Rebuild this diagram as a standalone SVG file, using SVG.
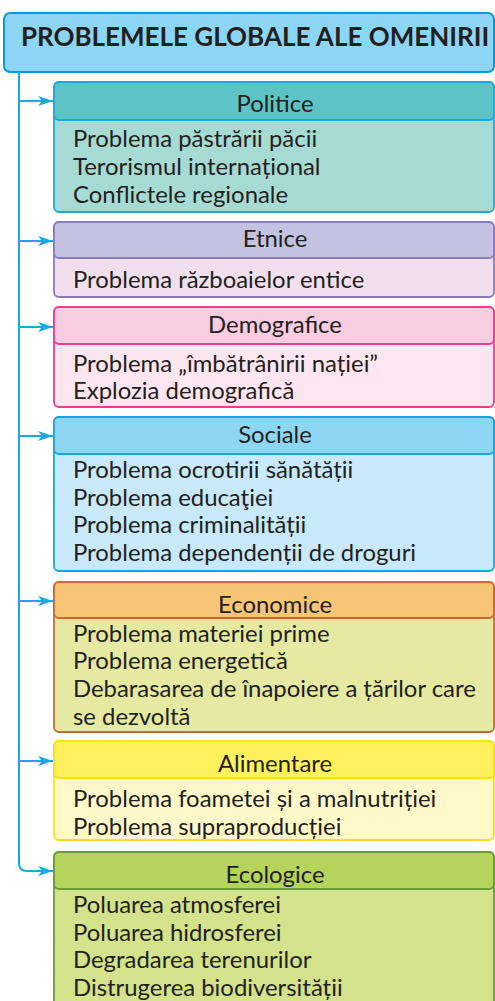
<svg xmlns="http://www.w3.org/2000/svg" width="495" height="1001" viewBox="0 0 495 1001">
<style>
text{font-family:Lato,"Open Sans","Liberation Sans",sans-serif;fill:#231f20}
.t{font-size:23.9px}
.h{font-size:23.9px;text-anchor:middle}
.title{font-size:26px;font-weight:bold;text-anchor:middle}
.conn{fill:none;stroke:#1ea7e4;stroke-width:2}
.box{stroke-width:1.8}
</style>
<defs>
<marker id="arr" markerWidth="16" markerHeight="12" refX="15" refY="5" orient="auto" markerUnits="userSpaceOnUse" viewBox="0 0 16 10">
<path d="M0,0 L15,5 L0,10 L4,5 Z" fill="#1ea7e4"/>
</marker>
</defs>
<rect width="495" height="1001" fill="#ffffff"/>
<g id="title">
<rect x="4" y="13" width="490" height="59" rx="6" fill="#8dd5f4" stroke="#0a98dc" stroke-width="2"/>
<text class="title" x="255" y="46">PROBLEMELE GLOBALE ALE OMENIRII</text>
</g>
<g id="connectors">
<path class="conn" d="M19,72 V863 Q19,871 27,871 H53" marker-end="url(#arr)"/>
<path class="conn" d="M19,101 H53" marker-end="url(#arr)"/>
<path class="conn" d="M19,241 H53" marker-end="url(#arr)"/>
<path class="conn" d="M19,327 H53" marker-end="url(#arr)"/>
<path class="conn" d="M19,436 H53" marker-end="url(#arr)"/>
<path class="conn" d="M19,601 H53" marker-end="url(#arr)"/>
<path class="conn" d="M19,761 H53" marker-end="url(#arr)"/>
</g>
<g id="politice">
<rect class="box" x="54" y="82" width="440" height="130" rx="5" fill="#a6dbd4" stroke="#1ea7df"/>
<rect class="box" x="54" y="82" width="440" height="38" rx="5" fill="#5dc3c6" stroke="#1ea7df"/>
<text class="h" x="275" y="112">Politice</text>
<text class="t" x="73" y="147">Problema păstrării păcii</text>
<text class="t" x="73" y="175">Terorismul internațional</text>
<text class="t" x="73" y="203">Conflictele regionale</text>
</g>
<g id="etnice">
<rect class="box" x="54" y="222" width="440" height="75" rx="5" fill="#f2dfee" stroke="#8b7bbf"/>
<rect class="box" x="54" y="222" width="440" height="36" rx="5" fill="#c5c1e0" stroke="#8b7bbf"/>
<text class="h" x="275" y="247">Etnice</text>
<text class="t" x="73" y="288">Problema războaielor entice</text>
</g>
<g id="demografice">
<rect class="box" x="54" y="307" width="440" height="100" rx="5" fill="#fde6ef" stroke="#ea3d8c"/>
<rect class="box" x="54" y="307" width="440" height="37" rx="5" fill="#f8cde0" stroke="#ea3d8c"/>
<text class="h" x="275" y="333">Demografice</text>
<text class="t" x="73" y="372">Problema „îmbătrânirii nației”</text>
<text class="t" x="73" y="399">Explozia demografică</text>
</g>
<g id="sociale">
<rect class="box" x="54" y="417" width="440" height="154" rx="5" fill="#c7e9f9" stroke="#19a3df"/>
<rect class="box" x="54" y="417" width="440" height="37" rx="5" fill="#8fd6f4" stroke="#19a3df"/>
<text class="h" x="275" y="443">Sociale</text>
<text class="t" x="73" y="478">Problema ocrotirii sănătății</text>
<text class="t" x="73" y="506">Problema educaţiei</text>
<text class="t" x="73" y="533">Problema criminalității</text>
<text class="t" x="73" y="561">Problema dependenții de droguri</text>
</g>
<g id="economice">
<rect class="box" x="54" y="582" width="440" height="150" rx="5" fill="#e5e9a1" stroke="#c96a30"/>
<rect class="box" x="54" y="582" width="440" height="36" rx="5" fill="#f8c577" stroke="#c96a30"/>
<text class="h" x="275" y="613">Economice</text>
<text class="t" x="73" y="642">Problema materiei prime</text>
<text class="t" x="73" y="669">Problema energetică</text>
<text class="t" x="73" y="697">Debarasarea de înapoiere a țărilor care</text>
<text class="t" x="73" y="725">se dezvoltă</text>
</g>
<g id="alimentare">
<rect class="box" x="54" y="741" width="440" height="99" rx="5" fill="#fff8c9" stroke="#f5e01a"/>
<rect class="box" x="54" y="741" width="440" height="37" rx="5" fill="#fff15c" stroke="#f5e01a"/>
<text class="h" x="275" y="772">Alimentare</text>
<text class="t" x="73" y="807">Problema foametei și a malnutriției</text>
<text class="t" x="73" y="835">Problema supraproducției</text>
</g>
<g id="ecologice">
<rect class="box" x="54" y="852" width="440" height="160" rx="5" fill="#d3e28b" stroke="#6c9b3a"/>
<rect class="box" x="54" y="852" width="440" height="37" rx="5" fill="#b5d45b" stroke="#6c9b3a"/>
<text class="h" x="275" y="883">Ecologice</text>
<text class="t" x="73" y="913">Poluarea atmosferei</text>
<text class="t" x="73" y="941">Poluarea hidrosferei</text>
<text class="t" x="73" y="968">Degradarea terenurilor</text>
<text class="t" x="73" y="996">Distrugerea biodiversității</text>
</g>
</svg>
